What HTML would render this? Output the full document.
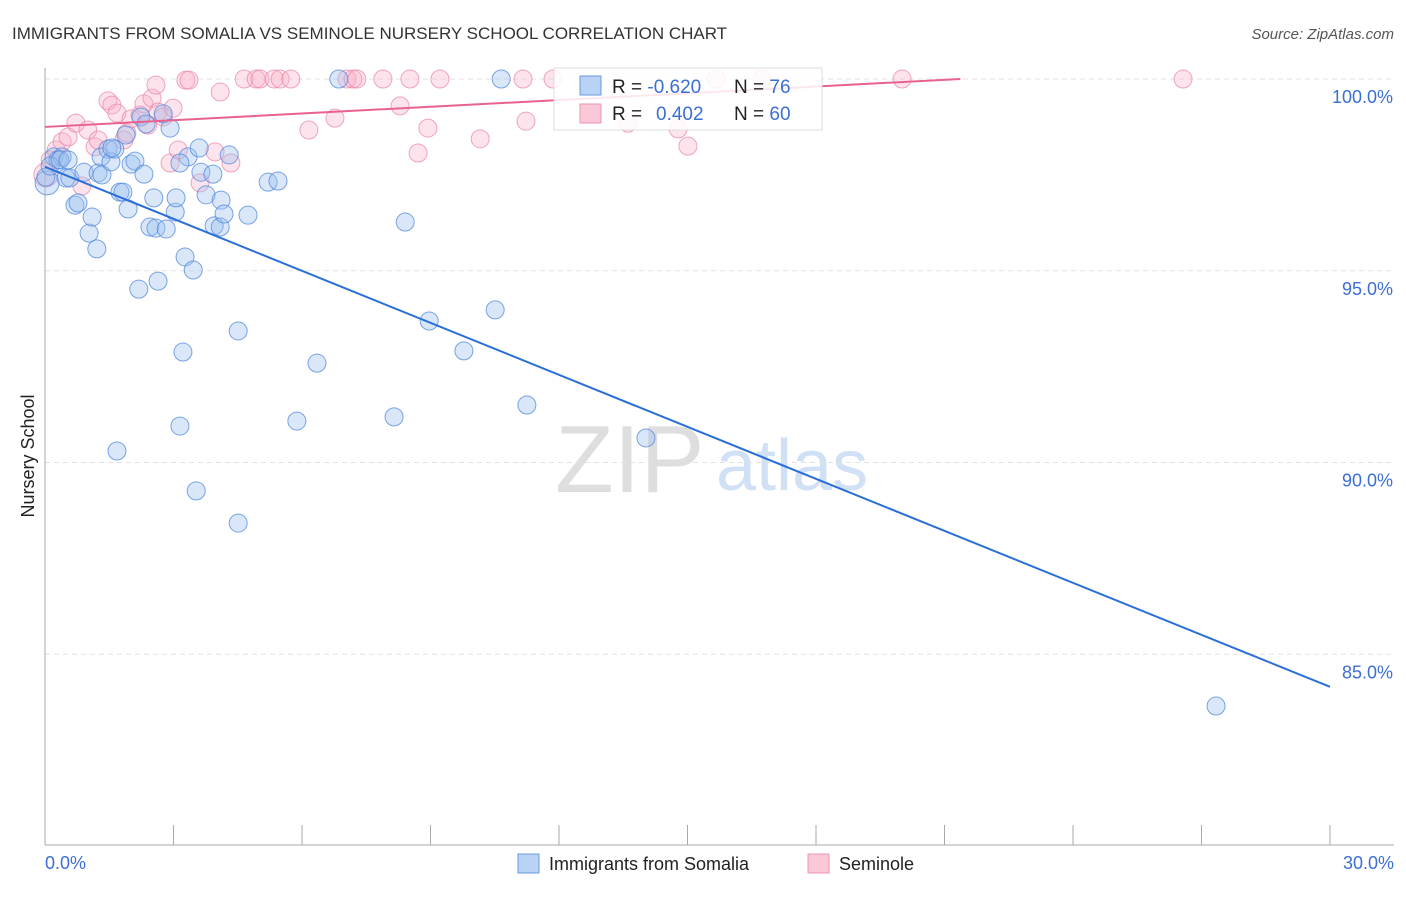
<!DOCTYPE html>
<html><head><meta charset="utf-8"><style>
body{margin:0;background:#fff;font-family:"Liberation Sans",sans-serif;}
svg text{font-family:"Liberation Sans",sans-serif;}
</style></head><body>
<svg id="chart" width="1406" height="892">
<text x="12" y="39" font-size="17" fill="#333">IMMIGRANTS FROM SOMALIA VS SEMINOLE NURSERY SCHOOL CORRELATION CHART</text>
<text x="1394" y="39" font-size="15" fill="#555" text-anchor="end" font-style="italic">Source: ZipAtlas.com</text>
<text x="555" y="492" font-size="96" fill="#dedede" font-family="Liberation Serif">ZIP</text>
<text x="716" y="490" font-size="72" fill="#d0e0f5">atlas</text>
<g id="grid"></g><g id="axes"></g><g id="pts"></g><g id="lines"></g>
<g>
<rect x="554" y="68" width="268" height="62" fill="#fff" fill-opacity="0.85" stroke="#ddd"/>
<rect x="580" y="76" width="21" height="19" fill="#b8d3f5" stroke="#6a9ae0"/>
<rect x="580" y="104" width="21" height="19" fill="#fbc8d7" stroke="#ec95b0"/>
<text x="612" y="93" font-size="19" fill="#222">R = <tspan fill="#3b6fd4">-0.620</tspan><tspan x="734">N = </tspan><tspan fill="#3b6fd4">76</tspan></text>
<text x="612" y="120" font-size="19" fill="#222">R = <tspan x="656" fill="#3b6fd4">0.402</tspan><tspan x="734">N = </tspan><tspan fill="#3b6fd4">60</tspan></text>
</g>
<text x="34" y="456" font-size="18" fill="#222" transform="rotate(-90 34 456)" text-anchor="middle">Nursery School</text>
<text x="45" y="869" font-size="18" fill="#3b6fd4">0.0%</text>
<text x="1394" y="869" font-size="18" fill="#3b6fd4" text-anchor="end">30.0%</text>
<g>
<rect x="518" y="854" width="21" height="19" fill="#b8d3f5" stroke="#6a9ae0"/>
<text x="549" y="870" font-size="18" fill="#222">Immigrants from Somalia</text>
<rect x="808" y="854" width="21" height="19" fill="#fbc8d7" stroke="#ec95b0"/>
<text x="839" y="870" font-size="18" fill="#222">Seminole</text>
</g>
</svg>
<script>
const yTicks=[100,95,90,85];
const yTickLabels=["100.0%","95.0%","90.0%","85.0%"];
const xTicks=[0,3,6,9,12,15,18,21,24,27,30];
const blueX=[.05,.21,.30,.40,.49,.58,.70,.77,.91,1.03,1.10,1.21,1.24,1.33,1.31,1.47,1.54,1.63,1.75,1.82,1.89,1.94,2.01,2.10,2.24,2.31,2.36,2.45,2.54,2.59,2.76,2.83,2.92,3.04,3.06,3.34,3.27,3.46,3.60,3.64,3.76,3.92,3.95,4.09,4.11,4.18,4.30,4.74,5.21,5.44,2.64,2.19,3.22,4.51,3.15,1.68,3.53,4.51,6.35,5.88,8.15,8.41,8.97,9.78,10.51,11.25,14.03,27.34,6.86,10.65,.02,.12,.35,.54,1.56,3.15];
const blueY=[97.29,97.97,97.89,97.97,97.42,97.42,96.71,96.77,97.57,95.98,96.40,95.57,97.55,97.50,97.97,98.17,97.84,98.17,97.05,97.05,98.54,96.61,97.78,97.86,99.01,97.52,98.83,96.14,96.90,96.11,99.09,96.09,98.72,96.53,96.90,97.97,95.36,95.02,98.20,97.57,96.98,97.52,96.17,96.14,96.84,96.48,98.02,96.45,97.31,97.34,94.73,94.52,92.88,93.43,90.95,90.30,89.26,88.42,92.59,91.08,91.19,96.27,93.69,92.91,93.98,91.50,90.64,83.65,100,100,97.44,97.73,97.89,97.89,98.20,97.81];
const pinkX=[.02,.12,.26,.40,.54,.72,.86,1.00,1.17,1.24,1.47,1.56,1.68,1.84,1.91,2.01,2.22,2.31,2.40,2.50,2.59,2.64,2.76,2.92,2.99,3.11,3.29,3.36,3.62,3.97,4.09,4.34,4.65,4.93,5.02,5.35,5.49,5.74,6.16,6.77,7.05,7.19,7.28,7.89,8.29,8.52,8.71,8.94,9.22,10.16,11.16,11.23,11.86,13.61,14.78,15.01,15.67,16.74,20.01,26.57];
const pinkY=[97.50,97.89,98.15,98.36,98.49,98.85,97.21,98.67,98.23,98.41,99.43,99.32,99.11,98.41,98.59,98.96,99.06,99.35,98.80,99.50,99.84,99.14,99.01,97.81,99.24,98.15,99.97,99.97,97.29,98.10,99.66,97.81,100,100,100,100,100,100,98.67,98.98,100,100,100,100,99.30,100,98.07,98.72,100,98.44,100,98.90,100,98.85,98.70,98.25,100,100,100,100];
const blueTrend=[[0,97.71],[30,84.15]];
const pinkTrend=[[0,98.75],[21.37,100]];
const X=v=>45+v/30*1285, Y=v=>79+(100-v)*38.35;
const NS="http://www.w3.org/2000/svg";
function mk(tag,attrs,parent){const e=document.createElementNS(NS,tag);for(const k in attrs)e.setAttribute(k,attrs[k]);document.getElementById(parent).appendChild(e);return e;}
yTicks.forEach((t,i)=>{
 const l=mk('line',{x1:45,x2:1394,y1:Y(t),y2:Y(t),stroke:'#e2e2e2','stroke-dasharray':'5,4'},'grid');
 
 
 const tx=mk('text',{x:1393,y:Y(t)+24,'font-size':18,fill:'#3b6fd4','text-anchor':'end'},'grid');
 tx.textContent=yTickLabels[i];
 
 
});
const ax=mk('line',{x1:45,x2:45,y1:68,y2:845,stroke:'#aaa'},'axes');


const bx=mk('line',{x1:45,x2:1394,y1:845,y2:845,stroke:'#aaa'},'axes');


xTicks.forEach(t=>{
 const l=mk('line',{x1:X(t),x2:X(t),y1:825,y2:845,stroke:'#aaa'},'axes');
 
 
});
pinkX.forEach((x,i)=>{
 const c=mk('circle',{cx:X(x),cy:Y(pinkY[i]),r:i==0?12:9,fill:'rgba(248,178,200,0.35)',stroke:'rgba(232,130,165,0.7)','stroke-width':1},'pts');
 
 
});
blueX.forEach((x,i)=>{
 const c=mk('circle',{cx:X(x),cy:Y(blueY[i]),r:i==0?12:9,fill:'rgba(155,192,240,0.38)',stroke:'rgba(80,135,220,0.75)','stroke-width':1},'pts');
 
 
});
const bl=mk('line',{x1:X(blueTrend[0][0]),y1:Y(blueTrend[0][1]),x2:X(blueTrend[1][0]),y2:Y(blueTrend[1][1]),stroke:'#2a6fd8','stroke-width':2},'lines');


const pl=mk('line',{x1:X(pinkTrend[0][0]),y1:Y(pinkTrend[0][1]),x2:X(pinkTrend[1][0]),y2:Y(pinkTrend[1][1]),stroke:'#e9628e','stroke-width':2},'lines');


</script>
</body></html>
